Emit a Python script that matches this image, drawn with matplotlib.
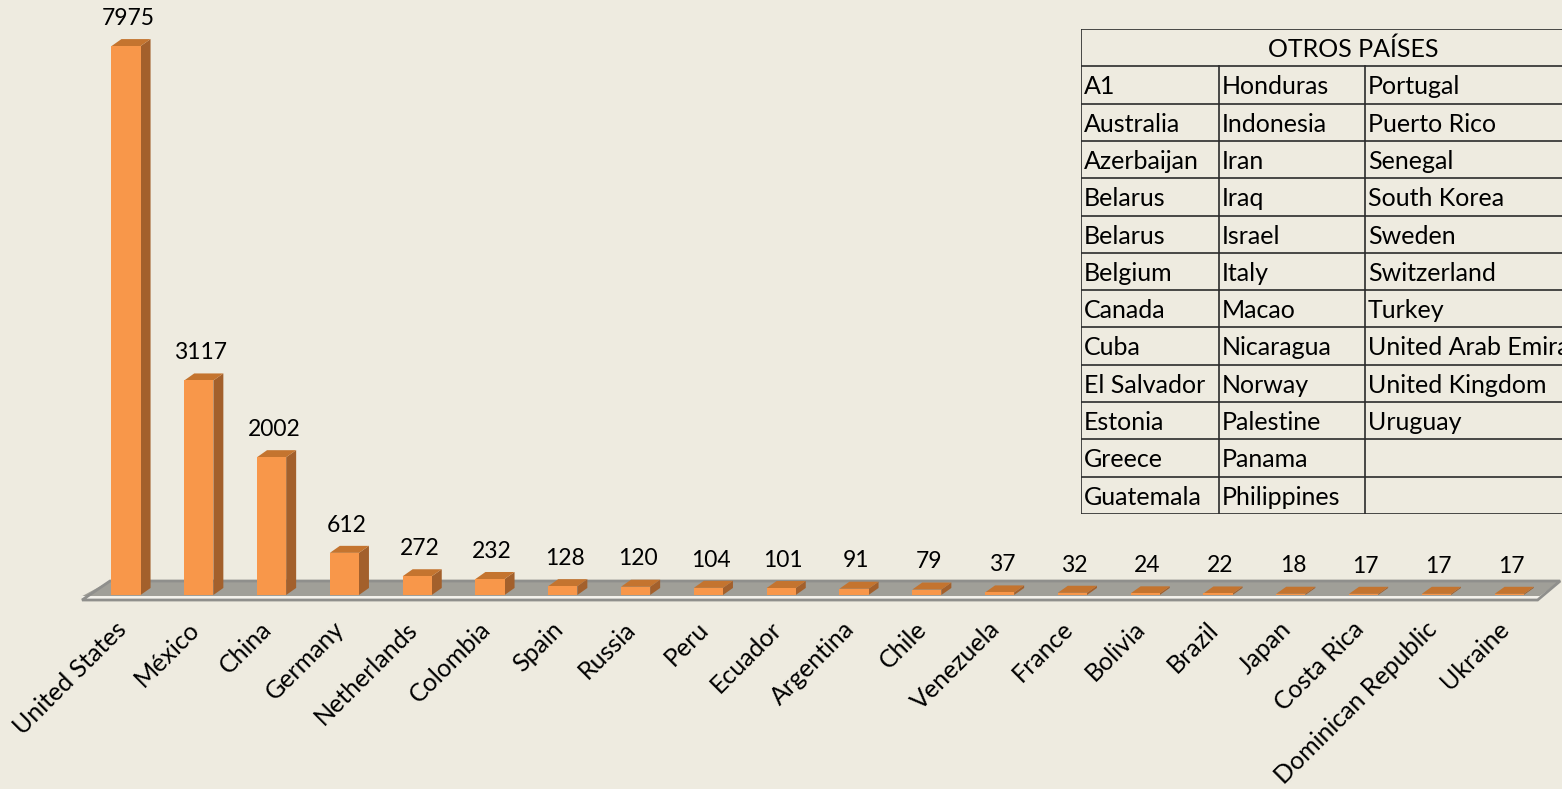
import matplotlib
matplotlib.use("Agg")
import matplotlib.pyplot as plt
from matplotlib.patches import Polygon

countries = ["United States", "México", "China", "Germany", "Netherlands", "Colombia",
             "Spain", "Russia", "Peru", "Ecuador", "Argentina", "Chile", "Venezuela",
             "France", "Bolivia", "Brazil", "Japan", "Costa Rica", "Dominican Republic",
             "Ukraine"]
values = [7975, 3117, 2002, 612, 272, 232, 128, 120, 104, 101, 91, 79, 37, 32,
          24, 22, 18, 17, 17, 17]

table_title = "OTROS PAÍSES"
col1 = ["A1", "Australia", "Azerbaijan", "Belarus", "Belarus", "Belgium", "Canada",
        "Cuba", "El Salvador", "Estonia", "Greece", "Guatemala"]
col2 = ["Honduras", "Indonesia", "Iran", "Iraq", "Israel", "Italy", "Macao",
        "Nicaragua", "Norway", "Palestine", "Panama", "Philippines"]
col3 = ["Portugal", "Puerto Rico", "Senegal", "South Korea", "Sweden", "Switzerland",
        "Turkey", "United Arab Emirates", "United Kingdom", "Uruguay", "", ""]

BG = "#EEEBE0"
FRONT = "#F8974A"
SIDE = "#A3602C"
TOP = "#C4742F"
plt.rcParams["font.family"] = ["Lato", "DejaVu Sans"]

fig = plt.figure(figsize=(15.62, 7.89), dpi=100, facecolor=BG)
ax = fig.add_axes([0, 0, 1, 1])
ax.set_facecolor(BG)
ax.set_xlim(-1.731, 19.725)
ax.set_ylim(-2819, 8645)
ax.axis("off")

w = 0.2
dx = 0.137
dy = 102

# floor
ax.add_patch(Polygon([(-0.60, -15), (19.42, -15), (19.70, 203), (-0.22, 203)],
                     closed=True, facecolor="#A09F98", edgecolor="none", zorder=1))
ax.add_patch(Polygon([(-0.604, -73), (19.39, -73), (19.42, -15), (-0.60, -15)],
                     closed=True, facecolor="#F4F2EC", edgecolor="none", zorder=1))
ax.add_patch(Polygon([(-0.604, -73), (19.39, -73), (19.70, 203), (-0.22, 203)],
                     closed=True, facecolor="none", edgecolor="#8F8F8C", lw=2, zorder=1))

for i, v in enumerate(values):
    x0, x1 = i - w, i + w
    ax.add_patch(Polygon([(x1, 0), (x1 + dx, dy), (x1 + dx, v + dy), (x1, v)],
                         closed=True, facecolor=SIDE, edgecolor="none", zorder=3))
    ax.add_patch(Polygon([(x0, v), (x1, v), (x1 + dx, v + dy), (x0 + dx, v + dy)],
                         closed=True, facecolor=TOP, edgecolor="none", zorder=3))
    ax.add_patch(Polygon([(x0, 0), (x1, 0), (x1, v), (x0, v)],
                         closed=True, facecolor=FRONT, edgecolor="none", zorder=4))
    ax.annotate(str(v), (i + 0.03, v), xytext=(0, 20), textcoords="offset points",
                ha="center", va="center", fontsize=16.5, color="black", zorder=5)
    ax.text(i - 0.05, -440, countries[i], rotation=45, rotation_mode="anchor",
            ha="right", va="center", fontsize=18, color="black")

# table of other countries
tax = fig.add_axes([1081 / 1562, (789 - 514) / 789, 544 / 1562, 485 / 789])
tax.set_xlim(0, 544)
tax.set_ylim(13, 0)
tax.axis("off")
tax.patch.set_visible(False)
cols = [0, 138, 284, 544]
lc = "#2b2b2b"
tax.plot([0, 544], [0, 0], color=lc, lw=1.2)
for r in range(1, 14):
    tax.plot([0, 544], [r, r], color=lc, lw=1.2)
tax.plot([0, 0], [0, 13], color=lc, lw=1.2)
for c in cols[1:3]:
    tax.plot([c, c], [1, 13], color=lc, lw=1.2)
tax.text(272, 0.55, table_title, ha="center", va="center", fontsize=18)
for r, names in enumerate(zip(col1, col2, col3)):
    for c, name in enumerate(names):
        tax.text(cols[c] + 3, r + 1.55, name, ha="left", va="center", fontsize=18,
                 clip_on=False)

fig.savefig("out.png", dpi=100, facecolor=BG)
